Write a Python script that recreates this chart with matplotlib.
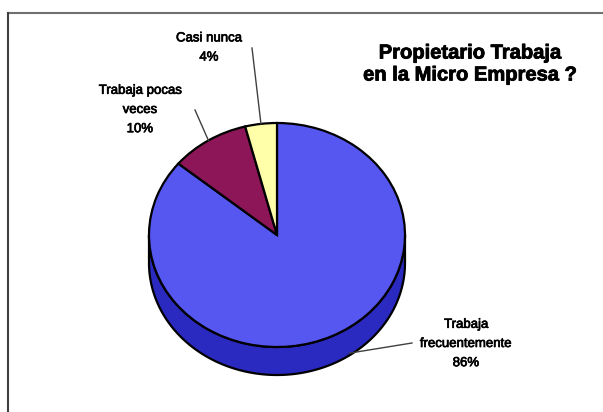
import numpy as np
import matplotlib.pyplot as plt
import matplotlib.patheffects as pe
from matplotlib.transforms import Affine2D

# Respuestas: el propietario trabaja en la micro empresa?
categorias = ['Trabaja\nfrecuentemente', 'Trabaja pocas\nveces', 'Casi nunca']
porcentajes = [86, 10, 4]
colores = ['#5656f0', '#8c1657', '#ffffaa']
color_lateral = '#2a2ac0'

titulo = 'Propietario Trabaja\nen la Micro Empresa ?'

W, H = 603, 412
fig = plt.figure(figsize=(W / 100, H / 100), dpi=100)
ax = fig.add_axes([0, 0, 1, 1])

# geometria del pastel (pixeles, y hacia arriba)
cx, cy = 277, H - 235
rx, ry = 128, 112
prof = 28

# cara lateral visible (mitad delantera)
t = np.linspace(np.pi, 2 * np.pi, 200)
xs = np.concatenate([cx + rx * np.cos(t), (cx + rx * np.cos(t))[::-1]])
ys = np.concatenate([cy + ry * np.sin(t), (cy - prof + ry * np.sin(t))[::-1]])
ax.fill(xs, ys, color=color_lateral, ec='black', lw=1.6, zorder=1)

# cara superior: pastel aplastado verticalmente
wedges, _ = ax.pie(porcentajes, colors=colores, startangle=90, counterclock=False,
                   center=(cx, cy), radius=rx, frame=True,
                   wedgeprops=dict(edgecolor='black', linewidth=1.6))
squash = Affine2D().translate(-cx, -cy).scale(1, ry / rx).translate(cx, cy)
for w in wedges:
    w.set_transform(squash + ax.transData)
    w.set_zorder(2)

# etiquetas con lineas guia
grueso = [pe.withStroke(linewidth=0.5, foreground='black')]
pos_texto = [(466, 344), (140, 110), (209, 48)]
inicio_guia = [(412, 343), (195, 110), (252, 48)]
for w, cat, p, (tx, ty), (gx, gy) in zip(wedges, categorias, porcentajes, pos_texto, inicio_guia):
    ang = np.deg2rad((w.theta1 + w.theta2) / 2)
    ex = cx + rx * np.cos(ang)
    ey = cy + ry * np.sin(ang)
    if np.sin(ang) < 0:
        ex += 18
        ey -= prof * 0.6
    ax.plot([gx, ex], [H - gy, ey], color='#404040', lw=1, zorder=3)
    ax.text(tx, H - ty, f'{cat}\n{p}%', ha='center', va='center',
            fontsize=9.5, family='Liberation Sans', linespacing=1.8,
            path_effects=grueso, zorder=4)

ax.text(470, H - 64, titulo, ha='center', va='center', fontsize=14.5,
        fontweight='bold', family='Liberation Sans', linespacing=1.2,
        path_effects=[pe.withStroke(linewidth=0.6, foreground='black')])

# marco
ax.plot([8, W], [H - 13, H - 13], color='#707070', lw=1.5)
ax.plot([8, 8], [H - 13, 0], color='#404040', lw=1.5)

ax.set_xlim(0, W)
ax.set_ylim(0, H)
ax.set_aspect('auto')
ax.axis('off')

fig.savefig('out.png', dpi=100, facecolor='white')
